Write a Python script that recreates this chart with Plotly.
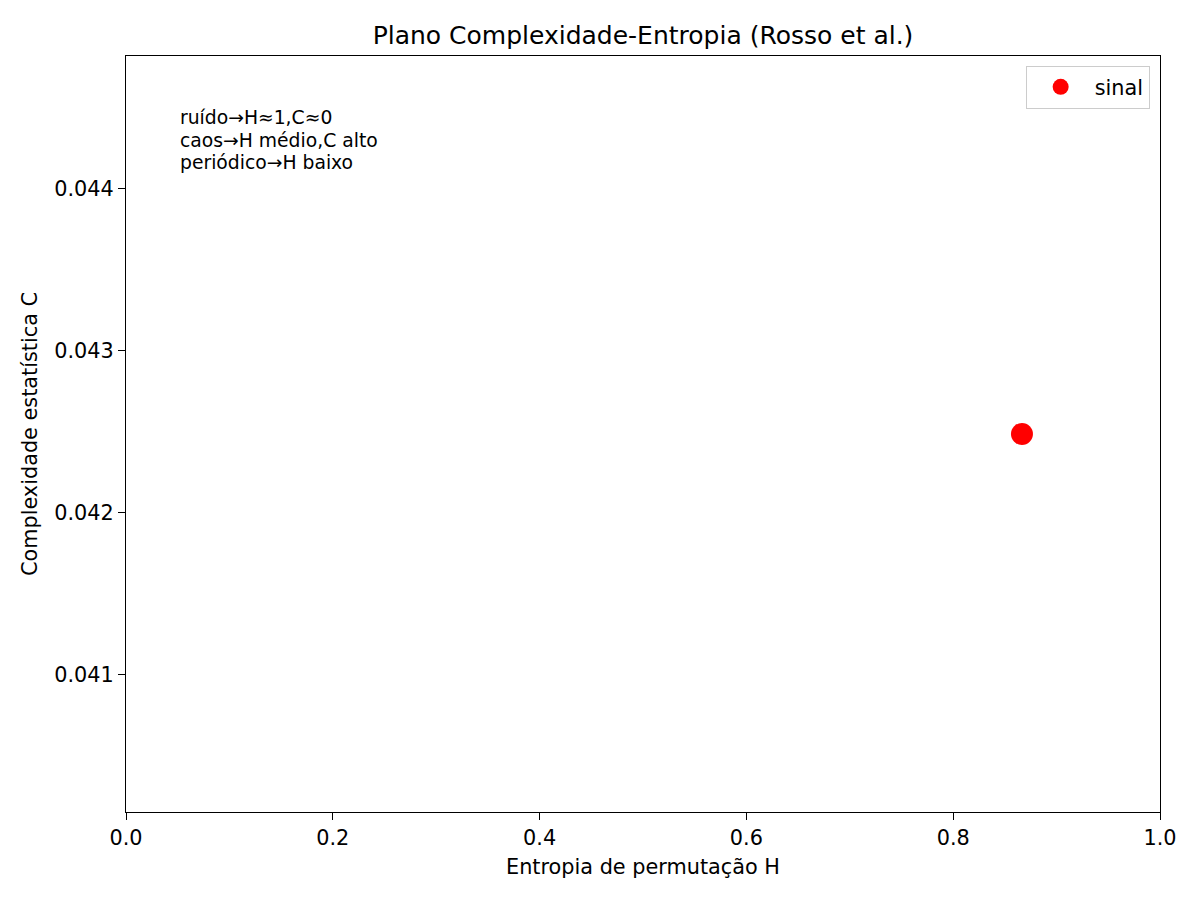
import plotly.graph_objects as go

# data
series_name = "sinal"
H_vals = [0.8665]
C_vals = [0.042488]
note_lines = ["ruído→H≈1,C≈0", "caos→H médio,C alto", "periódico→H baixo"]

x_ticks = [0.0, 0.2, 0.4, 0.6, 0.8, 1.0]
y_ticks = [0.041, 0.042, 0.043, 0.044]

FONT = "DejaVu Sans"
BASE = 20.8  # 10pt at 150 dpi

fig = go.Figure()
fig.add_trace(go.Scatter(
    x=H_vals, y=C_vals, mode="markers", name=series_name,
    marker=dict(size=22, color="red"),
    showlegend=True,
))

axis_common = dict(
    showline=True, linecolor="black", linewidth=1.2, mirror=True,
    ticks="outside", ticklen=7, tickcolor="black", tickwidth=1.2,
    showgrid=False, zeroline=False,
    tickfont=dict(family=FONT, size=BASE, color="black"),
)

fig.update_layout(
    width=1200, height=900,
    paper_bgcolor="white", plot_bgcolor="white",
    margin=dict(l=118, r=48, t=48, b=96),
    font=dict(family=FONT, size=BASE, color="black"),
    title=dict(text="Plano Complexidade-Entropia (Rosso et al.)",
               x=0.5, xref="paper", xanchor="center",
               y=1 - 27 / 900, yanchor="middle",
               font=dict(family=FONT, size=25, color="black")),
    xaxis=dict(axis_common, range=[0, 1], tickvals=x_ticks,
               ticktext=[f"{v:.1f}" for v in x_ticks],
               title=dict(text="Entropia de permutação H", standoff=10,
                          font=dict(family=FONT, size=BASE))),
    yaxis=dict(axis_common, range=[0.040154, 0.044821], tickvals=y_ticks,
               ticktext=[f"{v:.3f}" for v in y_ticks],
               title=dict(text="Complexidade estatística C", standoff=10,
                          font=dict(family=FONT, size=BASE))),
    legend=dict(x=0.990, y=0.987, xanchor="right", yanchor="top",
                bordercolor="#cccccc", borderwidth=1, bgcolor="rgba(255,255,255,0.8)",
                itemwidth=58,
                font=dict(family=FONT, size=BASE)),
)

# text block: matplotlib line spacing is tighter than plotly's <br>, so one line each
for i, line in enumerate(note_lines):
    fig.add_annotation(
        x=0.05, y=(756 - 62 - 22 * i) / 756, xref="paper", yref="paper",
        xanchor="left", yanchor="middle", align="left",
        text=line, showarrow=False,
        font=dict(family=FONT, size=18.75, color="black"),
    )

fig.write_html("out.html")
